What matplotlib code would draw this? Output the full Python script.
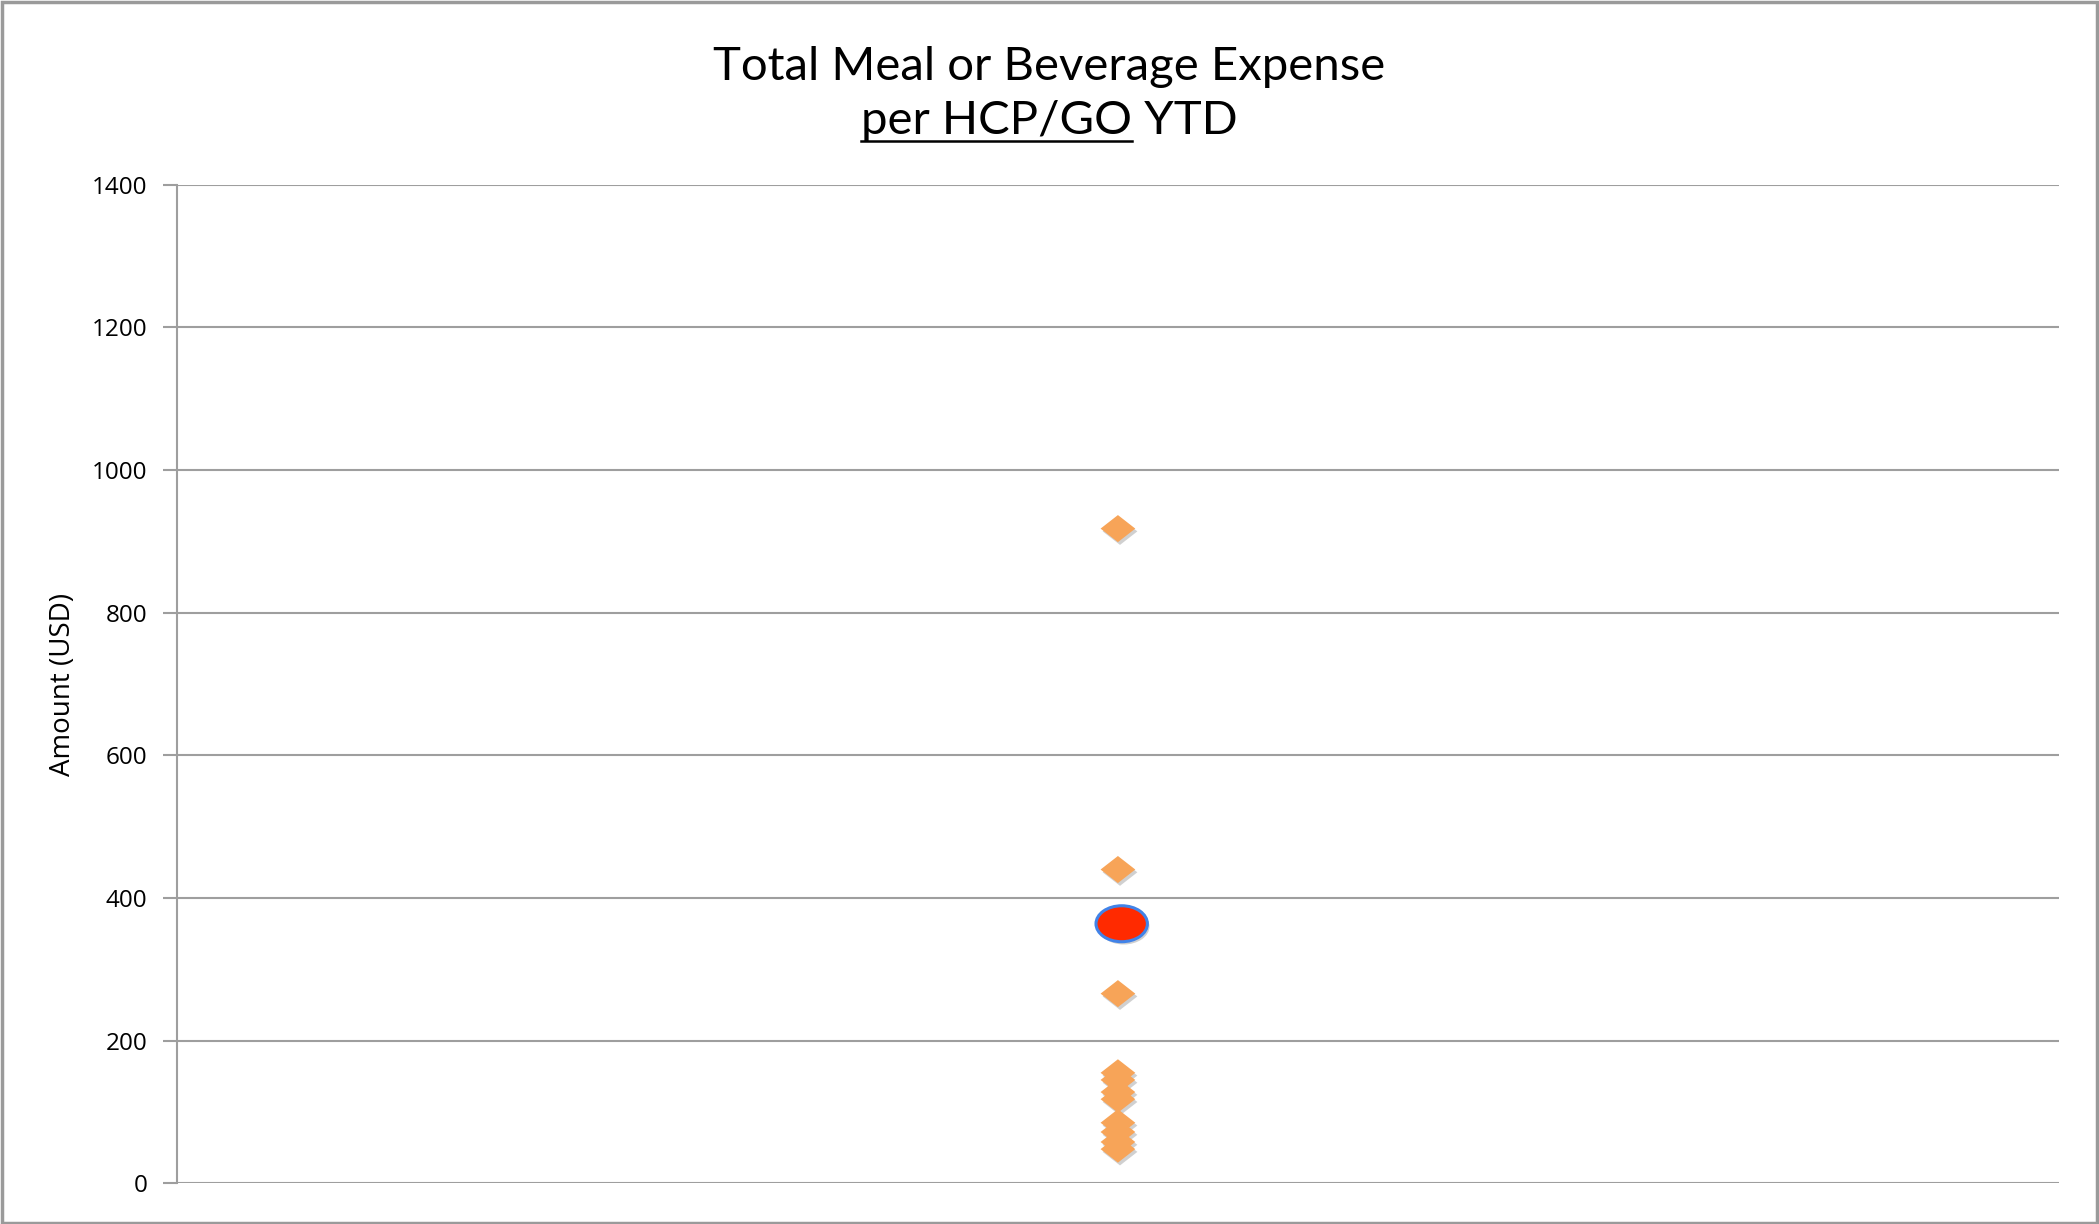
import matplotlib
matplotlib.use("Agg")
import matplotlib.pyplot as plt
from matplotlib.path import Path
from matplotlib.patches import Rectangle
from matplotlib.lines import Line2D
import matplotlib.patheffects as pe
import numpy as np

# === datos ===
expense_values = [918, 440, 266, 155, 145, 128, 118, 85, 72, 58, 48]
average_value = [364]
y_ticks = [0, 200, 400, 600, 800, 1000, 1200, 1400]
title_line1 = "Total Meal or Beverage Expense"
title_underlined = "per HCP/GO"
title_rest = " YTD"
y_label = "Amount (USD)"

orange = "#F7A458"
grid_gray = "#9E9E9E"

# marcadores: rombo ancho y elipse
diamond = Path([(-1, 0), (0, 0.78), (1, 0), (0, -0.78), (-1, 0)],
               [Path.MOVETO, Path.LINETO, Path.LINETO, Path.LINETO, Path.CLOSEPOLY])
circ = Path.unit_circle()
ellipse = Path(circ.vertices * np.array([1.0, 0.70]), circ.codes)

fig = plt.figure(figsize=(20.99, 12.24), dpi=100)
ax = fig.add_axes([0.0842, 0.0332, 0.8968, 0.8158])

shadow = [pe.SimplePatchShadow(offset=(1.5, -2), shadow_rgbFace=(0.4, 0.4, 0.4),
                               alpha=0.3), pe.Normal()]
ax.scatter([1] * len(expense_values), expense_values, marker=diamond, s=25 ** 2,
           color=orange, edgecolors="none", zorder=3, path_effects=shadow)
ax.scatter([1.004], average_value, marker=ellipse, s=37 ** 2,
           facecolor="#FF2A00", edgecolors="#4183E8", linewidths=2.2, zorder=4,
           path_effects=shadow)

ax.set_xlim(0, 2)
ax.set_ylim(0, 1400)
ax.set_yticks(y_ticks)
ax.set_xticks([])
ax.yaxis.grid(True, color=grid_gray, linewidth=1.5)
ax.set_axisbelow(True)
for s in ["top", "right", "bottom"]:
    ax.spines[s].set_visible(False)
ax.spines["left"].set_color(grid_gray)
ax.spines["left"].set_linewidth(1.5)
ax.tick_params(axis="y", length=10, width=1.5, color=grid_gray, pad=11,
               labelsize=17.5)
for lab in ax.get_yticklabels():
    lab.set_fontfamily("Open Sans")

fig.text(0.030, 0.441, y_label, rotation=90, ha="center", va="center",
         fontsize=20, family="Open Sans")

# titulo
fig.text(0.5, 0.9346, title_line1, ha="center", va="baseline", fontsize=34,
         family="Lato")
t2 = fig.text(0.5, 0.8906, title_underlined + title_rest, ha="center", va="baseline",
              fontsize=34, family="Lato")
fig.canvas.draw()
r = fig.canvas.get_renderer()
bb = t2.get_window_extent(r)
tmp = fig.text(0, 0, title_underlined, fontsize=34, family="Lato")
w = tmp.get_window_extent(r).width
tmp.remove()
x0 = bb.x0 / fig.bbox.width
x1 = (bb.x0 + w) / fig.bbox.width
yl = (0.8906 * fig.bbox.height - 7) / fig.bbox.height
fig.add_artist(Line2D([x0, x1], [yl, yl], color="black", linewidth=1.8,
                      transform=fig.transFigure))

# borde exterior
fig.patches.append(Rectangle((0.001, 0.001), 0.998, 0.997, transform=fig.transFigure,
                             fill=False, edgecolor="#9A9A9A", linewidth=2.5))

fig.savefig("out.png", dpi=100)
